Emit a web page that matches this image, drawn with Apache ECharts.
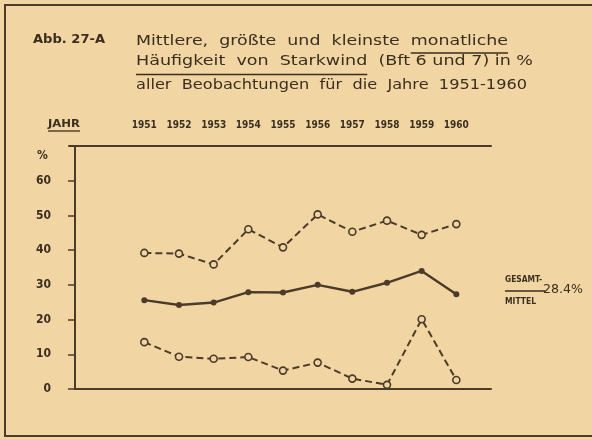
<!DOCTYPE html>
<html><head><meta charset="utf-8">
<script src="https://cdn.jsdelivr.net/npm/echarts@6/dist/echarts.min.js"></script>
<style>html,body{margin:0;padding:0;background:#f1d6a3}#c{width:592px;height:439px}</style>
</head><body><div id="c"></div>
<script>
const years = [1951, 1952, 1953, 1954, 1955, 1956, 1957, 1958, 1959, 1960];
const maxValues = [39.2, 39.0, 35.9, 46.0, 40.8, 50.3, 45.3, 48.5, 44.4, 47.5];
const meanValues = [25.6, 24.2, 24.9, 27.9, 27.8, 30.0, 28.0, 30.6, 34.0, 27.3];
const minValues = [13.5, 9.3, 8.7, 9.2, 5.3, 7.6, 3.0, 1.2, 20.1, 2.6];
const yTickLabels = ['0', '10', '20', '30', '40', '50', '60'];
const overallMean = '28.4%';

const INK = '#3b2e20';
const LINE = '#4a3b2a';
const BG = '#f1d6a3';
const FONT = "'DejaVu Sans Condensed','Liberation Sans Narrow','Roboto',sans-serif";
const WFONT = "'DejaVu Sans','Noto Sans',sans-serif";

const ctx = document.createElement('canvas').getContext('2d');
function measure(text, font) { ctx.font = font; return ctx.measureText(text).width; }

function txt(x, y, text, font, targetW) {
  const s = targetW ? targetW / measure(text, font) : 1;
  return { type: 'text', x: x, y: y, scaleX: s, silent: true,
    style: { text: text, font: font, fill: INK, textAlign: 'left', textVerticalAlign: 'middle' } };
}
function ln(x1, y1, x2, y2, w) {
  return { type: 'line', silent: true, shape: { x1: x1, y1: y1, x2: x2, y2: y2 }, style: { stroke: INK, lineWidth: w || 1.3 } };
}

const titleFont = '14px ' + WFONT;
const tx = 136;
const l1a = 'Mittlere,  größte  und  kleinste  ';
const l1b = 'monatliche';
const l2a = 'Häufigkeit  von  Starkwind';
const l2b = '  (Bft 6 und 7) in %';
const l3 = 'aller  Beobachtungen  für  die  Jahre  1951-1960';
const W1 = 372, W2 = 397, W3 = 391;
const s1 = W1 / measure(l1a + l1b, titleFont);
const s2 = W2 / measure(l2a + l2b, titleFont);
const u1x = tx + measure(l1a, titleFont) * s1;
const u2x = tx + measure(l2a, titleFont) * s2;

const chart = echarts.init(document.getElementById('c'));
const pairs = (vals) => years.map((y, i) => [y, vals[i]]);
const dashedSeries = (name, vals) => ({
  name: name, type: 'line', data: pairs(vals), symbol: 'circle', symbolSize: 7,
  itemStyle: { color: BG, borderColor: LINE, borderWidth: 1.6 },
  lineStyle: { color: LINE, width: 2, type: [7, 4] }, z: 3
});

chart.setOption({
  backgroundColor: BG,
  animation: false,
  grid: { left: 75, right: 101, top: 146, bottom: 50, outerBoundsMode: 'none' },
  xAxis: [
    { type: 'value', min: 1949, max: 1961, interval: 1, position: 'bottom',
      axisLine: { show: true, lineStyle: { color: LINE, width: 2 } },
      axisTick: { show: false }, axisLabel: { show: false }, splitLine: { show: false } },
    { type: 'value', min: 1949, max: 1961, interval: 1, position: 'top',
      axisLine: { show: true, onZero: false, lineStyle: { color: LINE, width: 2 } },
      axisTick: { show: false }, splitLine: { show: false },
      axisLabel: { show: true, margin: 16, color: INK, fontSize: 10, fontWeight: 'bold', fontFamily: FONT,
        formatter: (v) => years.indexOf(v) >= 0 ? String(v) : '' } }
  ],
  yAxis: {
    type: 'value', min: 0, max: 70, interval: 10,
    axisLine: { show: true, lineStyle: { color: LINE, width: 2 } },
    axisTick: { show: true, inside: false, length: 7, lineStyle: { color: LINE, width: 1.5 } },
    splitLine: { show: false },
    axisLabel: { margin: 24, color: INK, fontSize: 12, fontWeight: 'bold', fontFamily: FONT,
      formatter: (v) => { const i = v / 10; return i < yTickLabels.length ? yTickLabels[i] : ''; } }
  },
  series: [
    dashedSeries('größte', maxValues),
    { name: 'mittlere', type: 'line', data: pairs(meanValues), symbol: 'circle', symbolSize: 6,
      itemStyle: { color: LINE }, lineStyle: { color: LINE, width: 2.4 }, z: 3 },
    dashedSeries('kleinste', minValues)
  ],
  graphic: [
    { type: 'rect', silent: true, shape: { x: 5, y: 5, width: 600, height: 431 },
      style: { fill: 'none', stroke: LINE, lineWidth: 2 } },
    { type: 'line', silent: true, shape: { x1: 69, y1: 146, x2: 76, y2: 146 }, style: { stroke: LINE, lineWidth: 2 } },
    txt(33, 40, 'Abb. 27-A', 'bold 13px ' + FONT, 72),
    txt(tx, 41, l1a + l1b, titleFont, W1),
    ln(u1x, 53, tx + W1, 53),
    txt(tx, 61, l2a + l2b, titleFont, W2),
    ln(tx, 74.5, u2x, 74.5),
    txt(tx, 85, l3, titleFont, W3),
    txt(48, 124, 'JAHR', 'bold 10px ' + FONT, 32),
    ln(48, 131, 80, 131, 1.3),
    txt(37, 156, '%', 'bold 12px ' + FONT),
    txt(505, 280, 'GESAMT-', 'bold 9px ' + FONT, 37),
    ln(505, 291, 545, 291, 1.3),
    txt(505, 302, 'MITTEL', 'bold 9px ' + FONT, 31),
    txt(543, 290, overallMean, '13px ' + FONT, 40)
  ]
});
</script></body></html>
